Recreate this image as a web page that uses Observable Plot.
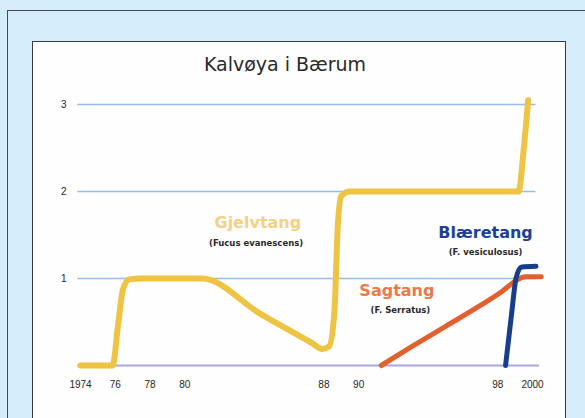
<!DOCTYPE html>
<html>
<head>
<meta charset="utf-8">
<script src="https://cdn.jsdelivr.net/npm/d3@7"></script>
<script src="https://cdn.jsdelivr.net/npm/@observablehq/plot@0.6"></script>
<style>
html, body { margin: 0; padding: 0; background: #d5ecfb; }
#wrap { position: relative; width: 585px; height: 418px; overflow: hidden; background: #d5ecfb; }
#outer { position: absolute; left: 7px; top: 10px; width: 600px; height: 430px; border-left: 1px solid #4a4a4a; border-top: 1px solid #4a4a4a; }
#panel { position: absolute; left: 32px; top: 41px; width: 532px; height: 420px; background: #fefefe; border: 1px solid #3a3a3a; }
#title { position: absolute; left: 135px; width: 300px; top: 55px; text-align: center; font-family: "DejaVu Sans", sans-serif; font-size: 19px; line-height: 19px; color: #2a2a2a; }
#chart { position: absolute; left: 0; top: 0; }
</style>
</head>
<body>
<div id="wrap">
  <div id="outer"></div>
  <div id="panel"></div>
  <div id="title">Kalvøya i Bærum</div>
  <div id="chart"></div>
</div>
<script>
// Gjelvtang (Fucus evanescens) — yellow
const gjelvtangYears  = [1974, 1975.85, 1976.15, 1976.45, 1976.8, 1977.5, 1981.0, 1984.3, 1987.3, 1987.9, 1988.3, 1988.6, 1988.8, 1989.0, 1989.5, 1999.2, 1999.5, 1999.75];
const gjelvtangValues = [0,    0,       0.45,    0.88,    0.99,   1.0,    1.0,    0.6,    0.26,   0.19,   0.22,   0.6,    1.6,    1.95,   2.0,    2.0,    2.5,    3.05];

// Sagtang (F. serratus) — orange
const sagtangYears  = [1991.3, 1993, 1995, 1997, 1998.3, 1999.0, 1999.6, 2000.5];
const sagtangValues = [0,      0.21, 0.45, 0.69, 0.86,   0.97,   1.02,   1.02];

// Blæretang (F. vesiculosus) — dark blue
const blaeretangYears  = [1998.45, 1998.8, 1999.05, 1999.35, 2000.2];
const blaeretangValues = [0,       0.6,    1.0,     1.13,    1.14];

const xTickYears  = [1974, 1976, 1978, 1980, 1988, 1990, 1998, 2000];
const xTickLabels = ["1974", "76", "78", "80", "88", "90", "98", "2000"];
const yTickValues = [1, 2, 3];

const seriesNames = ["Gjelvtang", "Sagtang", "Blæretang"];
const seriesLatin = ["(Fucus evanescens)", "(F. Serratus)", "(F. vesiculosus)"];

const toRows = (years, values) => years.map((year, i) => ({year, value: values[i]}));
const gjelvtang = toRows(gjelvtangYears, gjelvtangValues);
const sagtang = toRows(sagtangYears, sagtangValues);
const blaeretang = toRows(blaeretangYears, blaeretangValues);
const tickLabel = new Map(xTickYears.map((y, i) => [y, xTickLabels[i]]));

const chart = Plot.plot({
  width: 585,
  height: 418,
  marginLeft: 80,
  marginRight: 53,
  marginTop: 104,
  marginBottom: 53,
  style: {background: "transparent", fontFamily: "Liberation Sans, sans-serif"},
  x: {domain: [1974, 2000], axis: null},
  y: {domain: [0, 3], axis: null},
  marks: [
    Plot.ruleY(yTickValues, {x1: 1973.85, x2: 2000.2, stroke: "#95bfea", strokeWidth: 1.6}),
    Plot.ruleY([0], {x1: 1973.85, x2: 2000.4, stroke: "#a8a8e4", strokeWidth: 2}),
    Plot.axisX({ticks: xTickYears, tickFormat: d => tickLabel.get(d), tickSize: 0, tickPadding: 15, fontSize: 10, fill: "#262626", anchor: "bottom", label: null}),
    Plot.axisY({ticks: yTickValues, tickFormat: d => String(d), tickSize: 0, tickPadding: 14, fontSize: 10, fill: "#262626", anchor: "left", label: null}),
    Plot.line(gjelvtang, {x: "year", y: "value", stroke: "#efc443", strokeWidth: 6, curve: "monotone-x", strokeLinecap: "round", strokeLinejoin: "round"}),
    Plot.line(sagtang, {x: "year", y: "value", stroke: "#e2602f", strokeWidth: 5, curve: "monotone-x", strokeLinecap: "round", strokeLinejoin: "round"}),
    Plot.line(blaeretang, {x: "year", y: "value", stroke: "#173d8c", strokeWidth: 5, curve: "monotone-x", strokeLinecap: "round", strokeLinejoin: "round"}),
    // series names
    Plot.text([seriesNames[0]], {x: 1984.2, y: 1.64, text: d => d, fill: "#f3d183", fontSize: 16, fontWeight: "bold", fontFamily: "DejaVu Sans", textAnchor: "middle"}),
    Plot.text([seriesLatin[0]], {x: 1984.1, y: 1.41, text: d => d, fill: "#2a2a2a", fontSize: 8.5, fontWeight: "bold", fontFamily: "DejaVu Sans", textAnchor: "middle"}),
    Plot.text([seriesNames[1]], {x: 1992.2, y: 0.86, text: d => d, fill: "#ea7a4c", fontSize: 16, fontWeight: "bold", fontFamily: "DejaVu Sans", textAnchor: "middle"}),
    Plot.text([seriesLatin[1]], {x: 1992.4, y: 0.63, text: d => d, fill: "#2a2a2a", fontSize: 8.5, fontWeight: "bold", fontFamily: "DejaVu Sans", textAnchor: "middle"}),
    Plot.text([seriesNames[2]], {x: 1997.3, y: 1.52, text: d => d, fill: "#1f3f95", fontSize: 16, fontWeight: "bold", fontFamily: "DejaVu Sans", textAnchor: "middle"}),
    Plot.text([seriesLatin[2]], {x: 1997.3, y: 1.30, text: d => d, fill: "#2a2a2a", fontSize: 8.5, fontWeight: "bold", fontFamily: "DejaVu Sans", textAnchor: "middle"})
  ]
});
document.getElementById("chart").appendChild(chart);
</script>
</body>
</html>
